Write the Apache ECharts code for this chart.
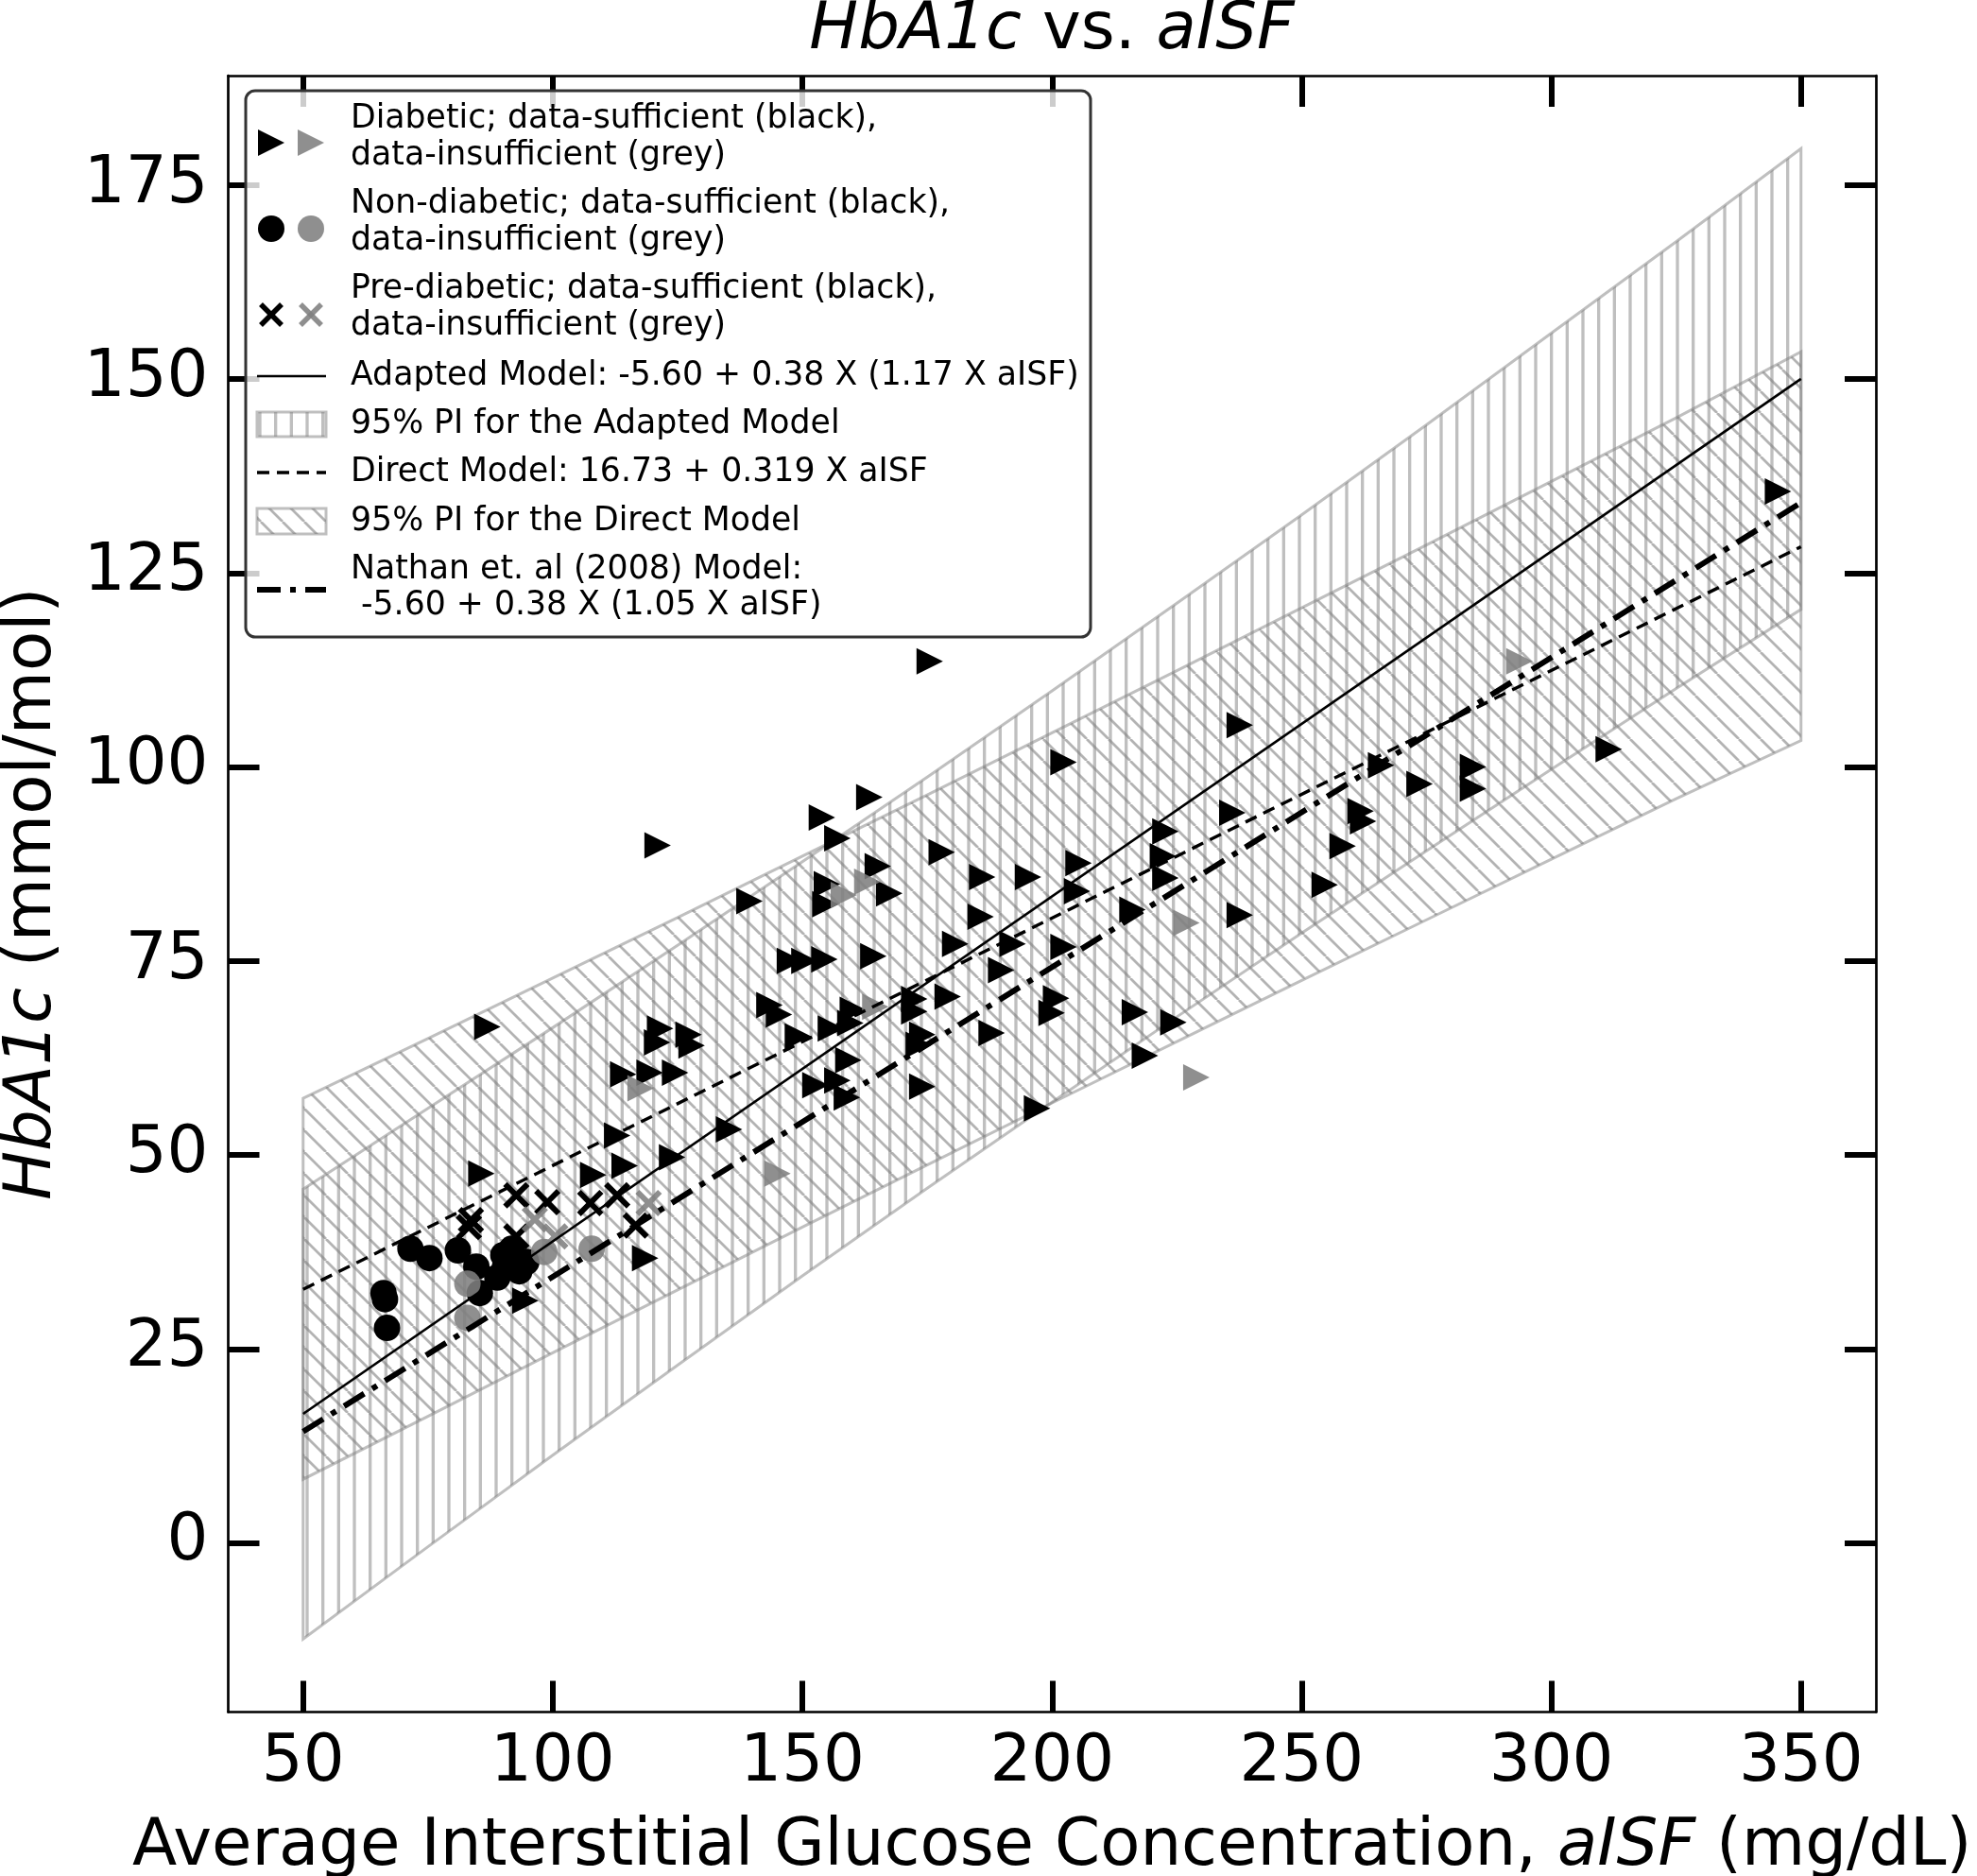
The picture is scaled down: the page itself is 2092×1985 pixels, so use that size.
<!DOCTYPE html>
<html lang="en">
<head>
<meta charset="UTF-8">
<title>HbA1c vs. aISF</title>
<script src="https://cdn.jsdelivr.net/npm/echarts@6/dist/echarts.min.js"></script>
<style>
    html, body { margin: 0; padding: 0; background: #fff; }
    #chart { width: 2092px; height: 1985px; }
</style>
</head>
<body>
<div id="chart"></div>
<script>
    // tick labels
    var xTicks = [50, 100, 150, 200, 250, 300, 350];
    var yTicks = [0, 25, 50, 75, 100, 125, 150, 175];

    // model lines at the two ends of the aISF range
    var lineX = [50, 350];
    var adaptedY = [16.63, 150.01];
    var directY = [32.68, 128.38];
    var nathanY = [14.35, 134.05];

    // 95% prediction interval bounds
    var bandX = [50, 75, 100, 125, 150, 175, 200, 225, 250, 275, 300, 325, 350];
    var adaptedUpper = [45.6, 56.0, 66.4, 77.0, 87.8, 98.7, 109.8, 121.1, 132.5, 144.1, 155.9, 167.7, 179.7];
    var adaptedLower = [-12.4, -0.5, 11.3, 22.9, 34.4, 45.7, 56.8, 67.8, 78.6, 89.2, 99.7, 110.1, 120.3];
    var directUpper = [57.3, 65.0, 72.8, 80.6, 88.5, 96.4, 104.4, 112.4, 120.5, 128.6, 136.8, 145.0, 153.5];
    var directLower = [8.2, 16.3, 24.5, 32.6, 40.7, 48.7, 56.7, 64.6, 72.5, 80.3, 88.1, 95.9, 103.4];

    // [aISF, HbA1c]
    var diabeticBlack = [
        [85.7, 47.6], [108.1, 47.4], [114.4, 48.6], [112.9, 52.5], [123.9, 49.7], [118.5, 36.7], [94.5, 31.2],
        [114.1, 60.4], [119.4, 60.6], [124.5, 60.6], [121.5, 66.3], [120.9, 64.5], [127.2, 65.5], [127.8, 64.1],
        [86.9, 66.5], [121.0, 89.9], [135.3, 53.3], [139.4, 82.7], [153.9, 93.5], [157.0, 90.8], [163.4, 96.1],
        [177.9, 89.0], [165.1, 87.2], [154.9, 84.9], [154.6, 82.3], [167.4, 83.7], [175.5, 113.6],
        [186.0, 85.8], [195.2, 85.8], [205.3, 87.6], [185.7, 80.7], [205.0, 84.0], [180.6, 77.2], [192.1, 77.2],
        [202.3, 76.8], [189.8, 73.8], [179.1, 70.4], [172.4, 70.1], [172.4, 68.5], [200.8, 70.2], [199.9, 68.3],
        [187.9, 65.7], [174.0, 65.5], [173.3, 64.2], [174.0, 58.8], [197.0, 56.0], [147.5, 75.0], [150.4, 75.0],
        [154.4, 75.2], [164.2, 75.6], [143.4, 69.3], [145.3, 68.1], [149.1, 65.3], [155.7, 66.3], [160.1, 68.7],
        [159.6, 67.0], [159.2, 62.2], [152.6, 59.0], [157.0, 59.6], [158.9, 57.4], [202.3, 100.6],
        [237.6, 105.4], [311.5, 102.3], [265.9, 100.2], [273.6, 97.8], [284.3, 100.0], [284.3, 97.2], [261.8, 94.3],
        [262.3, 93.0], [258.2, 89.8], [254.6, 84.8], [236.1, 94.1], [222.7, 91.7], [222.2, 88.5], [222.7, 85.7],
        [216.1, 81.6], [237.6, 80.9], [216.6, 68.4], [224.3, 67.1], [218.6, 62.8], [345.4, 135.5]
    ];
    var diabeticGrey = [
        [145.0, 47.6], [117.6, 58.6], [163.0, 85.2], [158.3, 83.5], [164.6, 69.1], [293.6, 113.6], [226.9, 79.9], [228.9, 60.0]
    ];
    var nonDiabeticBlack = [
        [66.1, 32.2], [66.4, 31.4], [66.8, 27.7], [71.5, 37.9], [75.3, 36.7], [81.0, 37.7], [84.7, 35.6],
        [85.4, 32.2], [90.1, 37.1], [90.4, 35.5], [93.3, 35.0], [88.9, 34.2], [91.8, 37.9], [94.7, 36.2]
    ];
    var nonDiabeticGrey = [[82.9, 33.4], [82.9, 29.0], [98.3, 37.5], [107.8, 37.9]];
    var preDiabeticBlack = [
        [83.2, 40.7], [83.6, 41.6], [92.7, 44.8], [98.9, 43.9], [107.5, 43.8], [112.9, 44.8], [116.6, 40.9], [92.7, 39.5]
    ];
    var preDiabeticGrey = [[96.4, 41.7], [100.5, 39.5], [119.2, 43.8]];

    var FONT = 'DejaVu Sans';
    var GREY = 'rgba(128,128,128,0.88)';
    var HATCH = 'rgba(128,128,128,0.5)';
    var HATCH_D = 'rgba(128,128,128,0.6)';
    var TRI = 'path://M0,0L10,5L0,10Z';
    var CROSS = 'path://M0,1.5L1.5,0L5,3.5L8.5,0L10,1.5L6.5,5L10,8.5L8.5,10L5,6.5L1.5,10L0,8.5L3.5,5Z';

    function pairs(xs, ys) {
        return xs.map(function (x, i) { return [x, ys[i]]; });
    }

    // hatch tiles: vertical lines (adapted PI) and back-slashes (direct PI)
    function hatch(kind) {
        var c = document.createElement('canvas');
        var s = kind === 'v' ? 50 : 23;
        c.width = s; c.height = s;
        var g = c.getContext('2d');
        if (kind === 'v') {
            g.strokeStyle = HATCH;
            g.lineWidth = 3.3;
            for (var k = 0; k < 3; k++) {
                var x = 8.33 + k * 16.67;
                g.beginPath(); g.moveTo(x, 0); g.lineTo(x, s); g.stroke();
            }
        } else {
            g.strokeStyle = HATCH_D;
            g.lineWidth = 2.7;
            for (var j = -1; j <= 1; j++) {
                g.beginPath(); g.moveTo(j * s, 0); g.lineTo(j * s + s, s); g.stroke();
            }
        }
        return { image: c, repeat: 'repeat' };
    }
    var vHatch = hatch('v');
    var dHatch = hatch('d');

    function band(upper, lower, fill) {
        return {
            type: 'custom',
            silent: true,
            z: 1,
            data: [[bandX[0], lower[0]]],
            renderItem: function (params, api) {
                var pts = [];
                for (var i = 0; i < bandX.length; i++) pts.push(api.coord([bandX[i], upper[i]]));
                for (var j = bandX.length - 1; j >= 0; j--) pts.push(api.coord([bandX[j], lower[j]]));
                return {
                    type: 'polygon',
                    shape: { points: pts },
                    style: { fill: fill, stroke: HATCH, lineWidth: 3 }
                };
            }
        };
    }

    function scatter(data, symbol, color) {
        return {
            type: 'scatter', silent: true, z: 3,
            data: data, symbol: symbol, symbolSize: 28,
            itemStyle: { color: color, opacity: 1 }
        };
    }

    function modelLine(ys, width, type) {
        return {
            type: 'line', silent: true, z: 4,
            data: pairs(lineX, ys), symbol: 'none',
            lineStyle: { color: '#000', width: width, type: type, opacity: 1 }
        };
    }

    var italic = { i: { fontStyle: 'italic', fontSize: 69, fontFamily: FONT, color: '#000' } };

    function xAxisOf(pos) {
        var bottom = pos === 'bottom';
        return {
            type: 'value', position: pos, min: 35, max: 365,
            axisLine: { show: true, onZero: false, lineStyle: { color: '#000', width: 2.7 } },
            axisTick: { show: true, inside: true, length: 33, customValues: xTicks, lineStyle: { color: '#000', width: 6 } },
            axisLabel: { show: bottom, customValues: xTicks, margin: 20, fontSize: 69, fontFamily: FONT, color: '#000' },
            splitLine: { show: false },
            name: bottom ? 'Average Interstitial Glucose Concentration, {i|aISF} (mg/dL)' : '',
            nameLocation: 'middle', nameGap: 109,
            nameTextStyle: { fontSize: 69, fontFamily: FONT, color: '#000', rich: italic }
        };
    }
    function yAxisOf(pos) {
        var left = pos === 'left';
        return {
            type: 'value', position: pos, min: -21.8, max: 189.1,
            axisLine: { show: true, onZero: false, lineStyle: { color: '#000', width: 2.7 } },
            axisTick: { show: true, inside: true, length: 33, customValues: yTicks, lineStyle: { color: '#000', width: 6 } },
            axisLabel: { show: left, customValues: yTicks, margin: 21, fontSize: 69, fontFamily: FONT, color: '#000' },
            splitLine: { show: false },
            name: left ? '{i|HbA1c} (mmol/mol)' : '',
            nameLocation: 'middle', nameGap: 172,
            nameTextStyle: { fontSize: 69, fontFamily: FONT, color: '#000', rich: italic }
        };
    }

    // legend drawn by hand: it has paired symbols and hatch swatches
    function legendText(y, s) {
        return {
            type: 'text', x: 371, y: y, z: 101,
            style: { text: s, font: '34.7px "DejaVu Sans"', fill: '#000', align: 'left', verticalAlign: 'middle',
                textAlign: 'left', textVerticalAlign: 'middle' }
        };
    }
    function legendTri(cx, cy, color) {
        return { type: 'polygon', z: 101, shape: { points: [[cx - 14, cy - 14], [cx + 14, cy], [cx - 14, cy + 14]] }, style: { fill: color } };
    }
    function legendCross(cx, cy, color) {
        return {
            type: 'group', z: 101, children: [
                { type: 'line', z: 101, shape: { x1: cx - 11, y1: cy - 11, x2: cx + 11, y2: cy + 11 }, style: { stroke: color, lineWidth: 5.5 } },
                { type: 'line', z: 101, shape: { x1: cx - 11, y1: cy + 11, x2: cx + 11, y2: cy - 11 }, style: { stroke: color, lineWidth: 5.5 } }
            ]
        };
    }
    var legend = [
        { type: 'rect', z: 100, shape: { x: 260, y: 96, width: 894, height: 578, r: 10 },
            style: { fill: 'rgba(255,255,255,0.8)', stroke: '#333', lineWidth: 3 } },
        legendTri(287, 151, '#000'), legendTri(329, 151, GREY),
        legendText(126, 'Diabetic; data-sufficient (black),'), legendText(165, 'data-insufficient (grey)'),
        { type: 'circle', z: 101, shape: { cx: 287, cy: 242, r: 14 }, style: { fill: '#000' } },
        { type: 'circle', z: 101, shape: { cx: 329, cy: 242, r: 14 }, style: { fill: GREY } },
        legendText(216, 'Non-diabetic; data-sufficient (black),'), legendText(255, 'data-insufficient (grey)'),
        legendCross(287, 333, '#000'), legendCross(329, 333, GREY),
        legendText(306, 'Pre-diabetic; data-sufficient (black),'), legendText(345, 'data-insufficient (grey)'),
        { type: 'line', z: 101, shape: { x1: 272, y1: 398, x2: 345, y2: 398 }, style: { stroke: '#000', lineWidth: 2.7 } },
        legendText(398, 'Adapted Model: -5.60 + 0.38 X (1.17 X aISF)'),
        { type: 'rect', z: 101, shape: { x: 272, y: 436, width: 73, height: 26 }, style: { fill: vHatch, stroke: HATCH, lineWidth: 3 } },
        legendText(449, '95% PI for the Adapted Model'),
        { type: 'line', z: 101, shape: { x1: 272, y1: 500, x2: 345, y2: 500 }, style: { stroke: '#000', lineWidth: 3.4, lineDash: [13, 8] } },
        legendText(500, 'Direct Model: 16.73 + 0.319 X aISF'),
        { type: 'rect', z: 101, shape: { x: 272, y: 538, width: 73, height: 27 }, style: { fill: dHatch, stroke: HATCH, lineWidth: 3 } },
        legendText(552, '95% PI for the Direct Model'),
        { type: 'line', z: 101, shape: { x1: 272, y1: 624, x2: 345, y2: 624 }, style: { stroke: '#000', lineWidth: 6, lineDash: [25, 10, 6, 10] } },
        legendText(603, 'Nathan et. al (2008) Model:'), legendText(641, ' -5.60 + 0.38 X (1.05 X aISF)'),
        { type: 'text', x: 1113, y: 33, z: 101,
            style: { text: '{i|HbA1c} vs. {i|aISF}', font: '69px "DejaVu Sans"', fill: '#000',
                align: 'center', verticalAlign: 'middle', textAlign: 'center', textVerticalAlign: 'middle', rich: italic } }
    ];

    var chart = echarts.init(document.getElementById('chart'));
    chart.setOption({
        animation: false,
        backgroundColor: '#fff',
        grid: { left: 241.5, right: 107, top: 80, bottom: 173.5, containLabel: false, outerBoundsMode: 'none' },
        xAxis: [xAxisOf('bottom'), xAxisOf('top')],
        yAxis: [yAxisOf('left'), yAxisOf('right')],
        graphic: legend,
        series: [
            band(adaptedUpper, adaptedLower, vHatch),
            band(directUpper, directLower, dHatch),
            scatter(diabeticBlack, TRI, '#000'),
            scatter(diabeticGrey, TRI, GREY),
            scatter(nonDiabeticBlack, 'circle', '#000'),
            scatter(nonDiabeticGrey, 'circle', GREY),
            scatter(preDiabeticBlack, CROSS, '#000'),
            scatter(preDiabeticGrey, CROSS, GREY),
            modelLine(adaptedY, 2.7, 'solid'),
            modelLine(directY, 3.4, [13, 8]),
            modelLine(nathanY, 6, [25, 10, 6, 10])
        ]
    });
</script>
</body>
</html>
